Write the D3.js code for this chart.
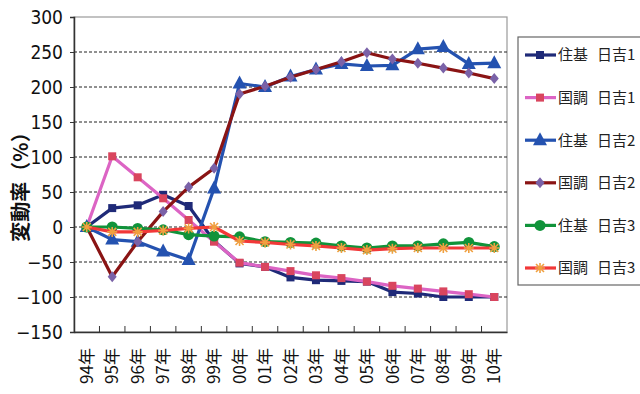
<!DOCTYPE html>
<html><head><meta charset="utf-8">
<script src="https://cdn.jsdelivr.net/npm/d3@7"></script>
<style>
html,body{margin:0;padding:0;background:#fff;}
svg{display:block;}
</style></head>
<body>
<svg id="c" width="640" height="394"></svg>
<script>
const years = ["94年","95年","96年","97年","98年","99年","00年","01年","02年","03年","04年","05年","06年","07年","08年","09年","10年"];
const yTicks = [-150,-100,-50,0,50,100,150,200,250,300];
const seriesNames = ["住基 日吉1","国調 日吉1","住基 日吉2","国調 日吉2","住基 日吉3","国調 日吉3"];
const juki1  = [0, 27, 31, 46, 30, -20, -52, -57, -72, -76, -77, -78, -93, -95, -100, -100, -100];
const kokucho1 = [0, 101, 71, 41, 10, -21, -51, -57, -63, -69, -73, -78, -84, -88, -92, -96, -100];
const juki2  = [0, -18, -21, -35, -47, 55, 205, 200, 215, 225, 233, 230, 231, 254, 257, 233, 234];
const kokucho2 = [0, -71, -21, 22, 57, 84, 190, 201, 214, 225, 236, 249, 240, 234, 227, 220, 212];
const juki3  = [0, 0, -2, -4, -11, -13, -14, -21, -22, -23, -27, -30, -27, -27, -24, -22, -28];
const kokucho3 = [0, -7, -7, -5, -2, 0, -20, -22, -25, -27, -30, -33, -31, -30, -30, -30, -30];

const seriesData = [juki1, kokucho1, juki2, kokucho2, juki3, kokucho3];
const lineColors = ["#1f2a78", "#dc64c4", "#2452b0", "#8a1414", "#10933a", "#f23838"];
const markerFill = ["#1f2a78", "#d9455e", "#2452b0", "#7a62a8", "#10933a", "#f0a040"];
const markerType = ["square", "square", "triangle", "diamond", "circle", "asterisk"];

const svg = d3.select("#c");
const L = 74, R = 507, T = 17, B = 332;
const x = d3.scaleBand().domain(years).range([L, R]).padding(0);
const y = d3.scaleLinear().domain([-150, 300]).range([B, T]);
const cx = d => x(d) + x.bandwidth() / 2;

// plot area border (top/right)
svg.append("rect").attr("x", L).attr("y", T).attr("width", R - L).attr("height", B - T)
  .attr("fill", "#fff").attr("stroke", "#9a9a9a").attr("stroke-width", 1.2);

// gridlines
svg.append("g").selectAll("line").data(yTicks.filter(v => v > -150 && v < 300)).join("line")
  .attr("x1", L).attr("x2", R).attr("y1", d => y(d)).attr("y2", d => y(d))
  .attr("stroke", "#222").attr("stroke-width", 1).attr("stroke-dasharray", "3,2");

// y axis
const yAxis = svg.append("g").attr("transform", `translate(${L},0)`)
  .call(d3.axisLeft(y).tickValues(yTicks).tickSize(4).tickPadding(7).tickFormat(d => d < 0 ? "−" + Math.abs(d) : d));
yAxis.select(".domain").attr("stroke", "#333").attr("stroke-width", 1.5);
yAxis.selectAll(".tick line").attr("stroke", "#333");
yAxis.selectAll("text").attr("font-family", "'Liberation Sans Narrow','Arial Narrow','DejaVu Sans Condensed',sans-serif")
  .attr("font-size", 19).attr("fill", "#111");

// x axis
const xAxis = svg.append("g").attr("transform", `translate(0,${B})`)
  .call(d3.axisBottom(x).tickSize(0).tickPadding(0));
xAxis.select(".domain").attr("stroke", "#333").attr("stroke-width", 1.5);
xAxis.selectAll("text")
  .attr("transform", "rotate(-90)")
  .attr("x", -16).attr("y", 0).attr("dy", "0.36em")
  .attr("text-anchor", "end")
  .attr("font-family", "'Noto Sans CJK JP',sans-serif")
  .attr("font-size", 17).attr("fill", "#111");
// boundary ticks (inside)
xAxis.append("g").selectAll("line").data(years.slice(1)).join("line")
  .attr("x1", d => x(d)).attr("x2", d => x(d)).attr("y1", 0).attr("y2", -6)
  .attr("stroke", "#333").attr("stroke-width", 1);

// y title
svg.append("text").attr("transform", "translate(28,182) rotate(-90)")
  .attr("text-anchor", "middle").attr("font-family", "'Noto Sans CJK JP',sans-serif")
  .attr("font-size", 20).attr("font-weight", "bold").attr("fill", "#111")
  .text("変動率（%）");

function drawMarker(g, type, fill, stroke) {
  if (type === "square") {
    g.append("rect").attr("x", -4).attr("y", -4).attr("width", 8).attr("height", 8).attr("fill", fill);
  } else if (type === "triangle") {
    g.append("path").attr("d", "M0,-8L7,5L-7,5Z").attr("fill", fill);
  } else if (type === "diamond") {
    g.append("path").attr("d", "M0,-5.5L4.5,0L0,5.5L-4.5,0Z").attr("fill", fill);
  } else if (type === "circle") {
    g.append("circle").attr("r", 5.5).attr("fill", fill);
  } else if (type === "asterisk") {
    g.append("path").attr("d", "M-5,0L5,0M0,-5L0,5M-4,-4L4,4M-4,4L4,-4")
      .attr("stroke", fill).attr("stroke-width", 1.6).attr("fill", "none");
  }
}

const line = d3.line().x((d, i) => cx(years[i])).y(d => y(d));
seriesData.forEach((data, si) => {
  const g = svg.append("g");
  g.append("path").datum(data).attr("d", line).attr("fill", "none")
    .attr("stroke", lineColors[si]).attr("stroke-width", 3.2).attr("stroke-linejoin", "round");
  data.forEach((v, i) => {
    const mg = g.append("g").attr("transform", `translate(${cx(years[i])},${y(v)})`);
    drawMarker(mg, markerType[si], markerFill[si], lineColors[si]);
  });
});

// legend
const lg = svg.append("g");
lg.append("rect").attr("x", 518).attr("y", 37).attr("width", 130).attr("height", 248)
  .attr("fill", "#fff").attr("stroke", "#666").attr("stroke-width", 1.2);
const ly = d3.scalePoint().domain(seriesNames).range([55, 268]);
seriesNames.forEach((name, si) => {
  const yy = ly(name);
  lg.append("line").attr("x1", 525).attr("x2", 556).attr("y1", yy).attr("y2", yy)
    .attr("stroke", lineColors[si]).attr("stroke-width", 3.2);
  const mg = lg.append("g").attr("transform", `translate(540,${yy})`);
  drawMarker(mg, markerType[si], markerFill[si], lineColors[si]);
  const parts = name.split(" ");
  const t = lg.append("text").attr("y", yy).attr("dy", "0.36em")
    .attr("font-family", "'Noto Sans CJK JP',sans-serif").attr("font-size", 15).attr("fill", "#222");
  t.append("tspan").attr("x", 558).text(parts[0]);
  t.append("tspan").attr("x", 597).text(parts[1]);
});
</script>
</body></html>
